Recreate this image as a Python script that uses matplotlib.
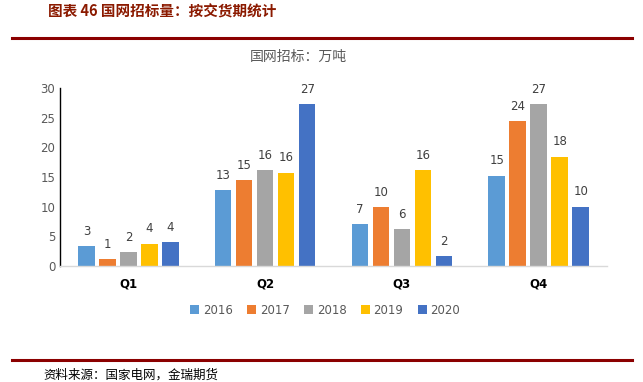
import matplotlib
matplotlib.use("Agg")
import matplotlib.pyplot as plt
import numpy as np

plt.rcParams['font.family'] = ['Noto Sans CJK SC', 'DejaVu Sans']

quarters = ["Q1", "Q2", "Q3", "Q4"]
years = ["2016", "2017", "2018", "2019", "2020"]
values = {
    "2016": [3.3, 12.8, 7.1, 15.2],
    "2017": [1.2, 14.5, 9.9, 24.4],
    "2018": [2.35, 16.2, 6.2, 27.3],
    "2019": [3.75, 15.75, 16.2, 18.4],
    "2020": [4.0, 27.3, 1.7, 10.0],
}
colors = ["#5B9BD5", "#ED7D31", "#A5A5A5", "#FFC000", "#4472C4"]
yticks = [0, 5, 10, 15, 20, 25, 30]

W, H = 643, 382
fig = plt.figure(figsize=(W / 100, H / 100), dpi=100)

# header
fig.text(48 / W, 1 - 12 / H, "图表 46 国网招标量：按交货期统计", fontsize=10.5,
         fontweight='bold', color='#8B1A00', va='center', ha='left')
fig.add_artist(plt.Line2D([12 / W, 632 / W], [1 - 38 / H, 1 - 38 / H],
                          color='#8B0000', lw=2.2, transform=fig.transFigure))
fig.add_artist(plt.Line2D([12 / W, 632 / W], [1 - 360 / H, 1 - 360 / H],
                          color='#8B0000', lw=2.2, transform=fig.transFigure))
fig.text(43 / W, 1 - 375 / H, "资料来源：国家电网，金瑞期货", fontsize=9,
         color='#000000', va='center', ha='left')

ax_l, ax_r, ax_t, ax_b = 60, 607, 88, 266
ax = fig.add_axes([ax_l / W, 1 - ax_b / H, (ax_r - ax_l) / W, (ax_b - ax_t) / H])

x = np.arange(len(quarters))
pitch = 0.1536
bw = 0.122
for i, (yr, c) in enumerate(zip(years, colors)):
    off = (i - 2) * pitch
    ax.bar(x + off, values[yr], width=bw, color=c, label=yr)
    for xi, v in zip(x + off, values[yr]):
        ax.annotate(f"{int(np.floor(v + 0.5)):d}", (xi, v), xytext=(0, 6),
                    textcoords='offset points', ha='center', va='bottom',
                    fontsize=8.5, color='#404040', family='DejaVu Sans')

ax.set_xlim(-0.5, 3.5)
ax.set_ylim(0, 30)
ax.set_yticks(yticks)
ax.set_yticklabels([str(t) for t in yticks], fontsize=8.5, color='#595959', family='DejaVu Sans')
ax.set_xticks(x)
ax.set_xticklabels(quarters, fontsize=8.5, fontweight='bold', color='#000000', family='DejaVu Sans')
ax.tick_params(axis='both', length=0)
ax.tick_params(axis='x', pad=8)
for s in ['top', 'right']:
    ax.spines[s].set_visible(False)
ax.spines['left'].set_color('#000000')
ax.spines['left'].set_linewidth(1.0)
ax.spines['bottom'].set_color('#D9D9D9')
ax.spines['bottom'].set_linewidth(1.0)

fig.text(298 / W, 1 - 57 / H, "国网招标：万吨", fontsize=10, color='#595959',
         ha='center', va='center')

leg = fig.legend(loc='center', bbox_to_anchor=(325 / W, 1 - 310 / H), ncol=5,
                 frameon=False, handlelength=0.8, handleheight=0.8,
                 handletextpad=0.3, columnspacing=1.2,
                 prop={'family': 'DejaVu Sans', 'size': 8.5})
for t in leg.get_texts():
    t.set_color('#595959')

fig.savefig("out.png", dpi=100)
